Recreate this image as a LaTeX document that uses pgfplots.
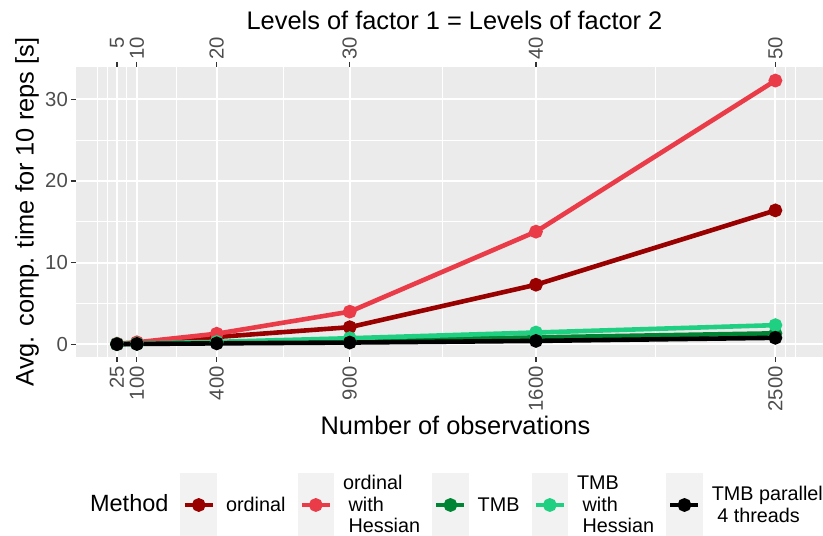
\documentclass[border=0pt]{standalone}
\usepackage{fontspec}
\setmainfont{Liberation Sans}
\usepackage{pgfplots}
\pgfplotsset{compat=1.18}
\definecolor{panelbg}{RGB}{235,235,235}
\definecolor{keybg}{RGB}{242,242,242}
\definecolor{cOrd}{RGB}{153,0,0}
\definecolor{cOrdH}{RGB}{234,59,72}
\definecolor{cTMB}{RGB}{0,133,52}
\definecolor{cTMBH}{RGB}{32,208,130}
\definecolor{tickc}{RGB}{77,77,77}
\definecolor{tickm}{RGB}{51,51,51}
\newcommand{\ttl}{\fontsize{25.4bp}{30bp}\selectfont}
\newcommand{\tkl}{\fontsize{20.3bp}{24bp}\selectfont}
\newcommand{\lgt}{\fontsize{19.8bp}{21.6bp}\selectfont}
\newcommand{\lt}[1]{\smash{\raisebox{-8bp}{\begin{tabular}[c]{@{}l@{}}#1\end{tabular}}}}
\begin{document}
\begin{tikzpicture}
\path[use as bounding box] (-76bp,-179bp) rectangle (747bp,357bp);
\pgfplotsset{common/.style={
  width=747bp, height=290bp, scale only axis,
  xmin=-129, xmax=2679, ymin=-1.55, ymax=33.96,
  tick align=outside, major tick length=5bp, minor tick length=0pt,
  tick style={tickm, line width=1.1bp},
  axis line style={draw=none},
  /pgf/number format/assume math mode=true,
  ticklabel style={font=\tkl, text=tickc},
}}
\begin{axis}[common, at={(0,0)}, anchor=south west,
  axis background/.style={fill=panelbg},
  xtick pos=lower, ytick pos=left,
  xtick={25,100,400,900,1600,2500},
  xticklabels={25,100,400,900,1600,2500},
  minor xtick={-50,-12.5,62.5,250,650,1250,2050,2537.5,2575},
  ytick={0,10,20,30}, minor ytick={5,15,25},
  grid=both,
  major grid style={white, line width=1.8bp},
  minor grid style={white, line width=0.9bp},
  xticklabel style={rotate=90, anchor=east, inner xsep=4bp},
  yticklabel style={anchor=east, inner xsep=3bp},
  xlabel={Number of observations},
  xlabel style={at={(axis description cs:0.508,-0.2345)}, anchor=center, font=\ttl},
  ylabel={Avg. comp. time for 10 reps [s]},
  ylabel style={at={(axis description cs:-0.0656,0.5)}, anchor=center, font=\ttl},
  legend columns=6,
  legend cell align=left,
  legend style={at={(axis description cs:0.5067,-0.5103)}, anchor=center,
    draw=none, fill=none, font=\lgt,
    /tikz/every odd column/.append style={column sep=4bp},
    /tikz/every even column/.append style={column sep=7bp},
    nodes={inner xsep=5bp, inner ysep=0pt}},
  legend image code/.code={
    \fill[keybg] (0bp,-29.5bp) rectangle (32bp,29.5bp);
    \draw[mark repeat=2,mark phase=2,#1] plot coordinates {(2bp,0bp) (16bp,0bp) (30bp,0bp)};
  },
  every axis plot/.append style={line width=4.6bp, mark=*, mark size=4.5bp, mark options={solid}},
]
\addlegendimage{empty legend}
\addlegendentry{{\fontsize{23.5bp}{26bp}\selectfont\lt{Method}}}
\addplot[cOrd] coordinates {(25,0.05) (100,0.15) (400,0.9) (900,2.1) (1600,7.3) (2500,16.4)};
\addlegendentry{\lt{ordinal}}
\addplot[cOrdH] coordinates {(25,0.08) (100,0.25) (400,1.3) (900,4.0) (1600,13.8) (2500,32.3)};
\addlegendentry{\lt{ordinal\\\ with\\\ Hessian}}
\addplot[cTMB] coordinates {(25,0.03) (100,0.07) (400,0.2) (900,0.45) (1600,0.85) (2500,1.35)};
\addlegendentry{\lt{TMB}}
\addplot[cTMBH] coordinates {(25,0.04) (100,0.1) (400,0.3) (900,0.75) (1600,1.45) (2500,2.35)};
\addlegendentry{\lt{TMB\\\ with\\\ Hessian}}
\addplot[black] coordinates {(25,0.02) (100,0.05) (400,0.12) (900,0.22) (1600,0.42) (2500,0.8)};
\addlegendentry{\lt{TMB parallel\\\ 4 threads}}
\end{axis}
\begin{axis}[common, at={(0,0)}, anchor=south west,
  axis x line*=top, axis y line=none,
  xtick={25,100,400,900,1600,2500},
  xticklabels={5,10,20,30,40,50},
  xticklabel style={rotate=90, anchor=west, text width=23bp, align=right, inner xsep=2bp},
  xlabel={Levels of factor 1 = Levels of factor 2},
  xlabel style={at={(axis description cs:0.5067,1.162)}, anchor=center, font=\ttl},
]
\end{axis}
\end{tikzpicture}
\end{document}
